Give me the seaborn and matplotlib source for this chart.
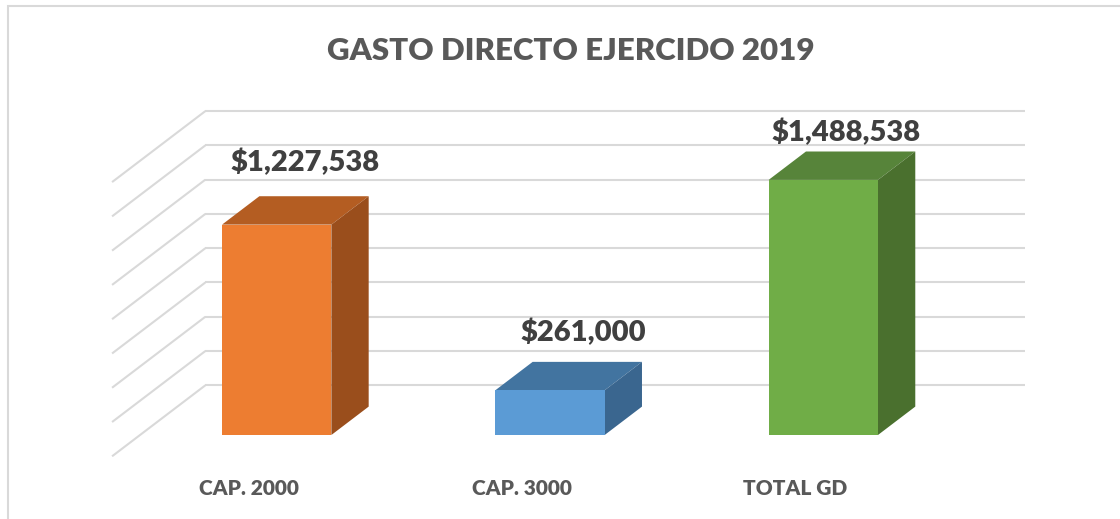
import matplotlib
matplotlib.use("Agg")
import matplotlib.pyplot as plt
import matplotlib.patches as mpatches
import seaborn as sns
import pandas as pd

# Datos
categorias = ["CAP. 2000", "CAP. 3000", "TOTAL GD"]
montos = [1227538, 261000, 1488538]
etiquetas = ["$1,227,538", "$261,000", "$1,488,538"]
lineas_guia = [0, 200000, 400000, 600000, 800000, 1000000, 1200000, 1400000, 1600000]

color_frente = ["#ED7D31", "#5B9BD5", "#70AD47"]
color_tapa = ["#B45D22", "#4274A0", "#57843A"]
color_lado = ["#9A4E1C", "#3A668F", "#4A702E"]

df = pd.DataFrame({"categoria": categorias, "monto": montos})

sns.set_style("white")
plt.rcParams["font.family"] = ["Lato", "DejaVu Sans"]

W, H = 1120, 519
fig = plt.figure(figsize=(W / 100, H / 100), dpi=100)

# ejes ubicados en pixeles (escala: 273.3 px por categoria, 5835 unidades por px)
px_cat, u_px = 273.3, 5835
x0_px, y0_px = 276.7, 435
izq, der, arr, aba = 100, 1040, 90, 457
ax = fig.add_axes([izq / W, (H - aba) / H, (der - izq) / W, (aba - arr) / H])

# profundidad total de la caja 3D (oblicua)
prof_x = 93.3 / px_cat
prof_v = 71 * u_px
frac_barra = 0.4
atras = 0.7   # del frente de la barra a la pared del fondo
adelante = 0.3  # del frente de la barra al borde frontal del piso

gris = "#D9D9D9"
xb0, xb1 = -0.5 + atras * prof_x, 2.5 + atras * prof_x
xf0 = -0.5 - adelante * prof_x
for g in lineas_guia:
    vb = g + atras * prof_v
    vf = g - adelante * prof_v
    ax.plot([xb0, xb1], [vb, vb], color=gris, lw=1.5, zorder=1, solid_capstyle="butt")
    ax.plot([xb0, xf0], [vb, vf], color=gris, lw=1.5, zorder=1, solid_capstyle="butt")

# caras frontales con seaborn
sns.barplot(data=df, x="categoria", y="monto", hue="categoria",
            palette=color_frente, width=frac_barra, legend=False, saturation=1,
            edgecolor="none", linewidth=0, ax=ax, zorder=4)

dx = frac_barra * prof_x
dv = frac_barra * prof_v
barras = list(ax.patches)
for i, p in enumerate(barras):
    x, w, h = p.get_x(), p.get_width(), p.get_height()
    tapa = [(x, h), (x + w, h), (x + w + dx, h + dv), (x + dx, h + dv)]
    lado = [(x + w, 0), (x + w + dx, dv), (x + w + dx, h + dv), (x + w, h)]
    ax.add_patch(mpatches.Polygon(tapa, closed=True, facecolor=color_tapa[i],
                                  edgecolor="none", zorder=3))
    ax.add_patch(mpatches.Polygon(lado, closed=True, facecolor=color_lado[i],
                                  edgecolor="none", zorder=3))

# etiquetas de valor
desplaz = [(28, 62), (33, 58), (23, 47)]
for i, p in enumerate(barras):
    cx = p.get_x() + p.get_width() / 2
    ax.annotate(etiquetas[i], (cx, p.get_height()), xytext=desplaz[i],
                textcoords="offset pixels", ha="center", va="center",
                fontsize=21, fontweight="heavy", color="#404040", zorder=6)

# categorias en el borde frontal del piso
ax.set_xticks([i - adelante * prof_x for i in range(len(categorias))])
ax.set_xticklabels(categorias, fontsize=15, fontweight="heavy", color="#595959")
ax.tick_params(axis="x", length=0, pad=16)
ax.set_yticks([])
ax.set_xlabel("")
ax.set_ylabel("")
sns.despine(ax=ax, left=True, bottom=True)

# limites despues de seaborn (barplot los reajusta)
ax.set_xlim((izq - x0_px) / px_cat, (der - x0_px) / px_cat)
ax.set_ylim((y0_px - aba) * u_px, (y0_px - arr) * u_px)

fig.text(571 / W, 1 - 51 / H, "GASTO DIRECTO EJERCIDO 2019", ha="center", va="center",
         fontsize=22.5, fontweight="heavy", color="#595959")

marco = mpatches.Rectangle((8 / W, -0.2), 1.5, 1.2 - 6 / H, transform=fig.transFigure,
                           fill=False, edgecolor=gris, lw=1.5)
fig.patches.append(marco)

fig.savefig("out.png", dpi=100)
